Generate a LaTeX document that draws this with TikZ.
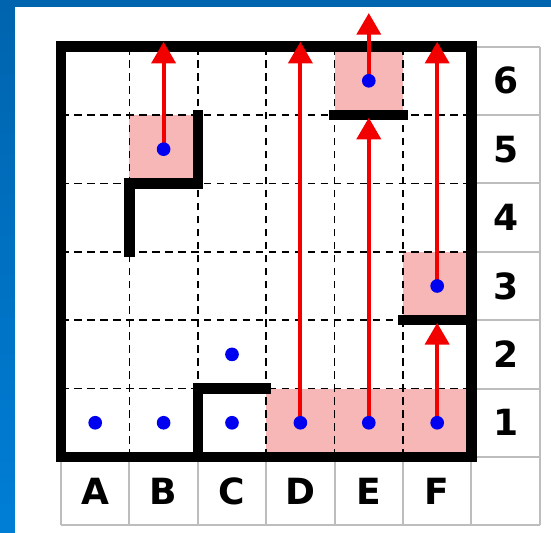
\documentclass[tikz,border=0pt]{standalone}
\usepackage{fontspec}
\setsansfont{DejaVu Sans}
\usetikzlibrary{arrows.meta,calc,positioning}
\definecolor{bgtop}{HTML}{0064AE}
\definecolor{bgbottom}{HTML}{007ED6}
\definecolor{cellpink}{HTML}{F8B7B7}
\definecolor{labgray}{HTML}{BDBDBD}
\definecolor{dotblue}{HTML}{0000F0}
\definecolor{arrred}{HTML}{F20000}

\begin{document}
\begin{tikzpicture}[scale=1.0,>={Triangle[length=9pt,width=10pt]},
    gridline/.style={line width=0.7pt,dash pattern=on 3.2pt off 2.2pt},
    wall/.style={line width=4.3pt,line cap=rect},
    move/.style={->,arrred,line width=1.6pt},
    lab/.style={font=\sffamily\bfseries\fontsize{15}{18}\selectfont}]
    \useasboundingbox (-0.892,-1.111) rectangle (7.164,6.681);
    \shade[top color=bgtop,bottom color=bgbottom] (-0.892,-1.111) rectangle (7.164,6.681);
    \fill[white] (-0.672,-1.111) rectangle (7.164,6.579);
    % label cells
    \draw[labgray,line width=0.8pt] (0,-1) grid (7,0);
    \draw[labgray,line width=0.8pt] (6,0) grid (7,6);
    % shaded cells
    \foreach \c in {(1,4),(4,5),(5,2),(3,0),(4,0),(5,0)}
        \fill[cellpink] \c rectangle ++(1,1);
    % dashed grid
    \foreach \i in {1,...,5} {
        \draw[gridline] (\i,0) -- (\i,6);
        \draw[gridline] (0,\i) -- (6,\i);
    }
    % walls
    \draw[wall] (0,0) rectangle (6,6);
    \draw[wall] (2,5) -- (2,4) -- (1,4) -- (1,3);
    \draw[wall] (4,5) -- (5,5);
    \draw[wall] (5,2) -- (6,2);
    \draw[wall] (2,0) -- (2,1) -- (3,1);
    % pieces
    \coordinate (A1) at (0.5,0.5);
    \coordinate (B1) at (1.5,0.5);
    \coordinate (C1) at (2.5,0.5);
    \coordinate (D1) at (3.5,0.5);
    \coordinate (E1) at (4.5,0.5);
    \coordinate (F1) at (5.5,0.5);
    \coordinate (C2) at (2.5,1.5);
    \coordinate (F3) at (5.5,2.5);
    \coordinate (B5) at (1.5,4.5);
    \coordinate (E6) at (4.5,5.5);
    % stops
    \coordinate (B-top) at (1.5,6.07);
    \coordinate (D-top) at (3.5,6.07);
    \coordinate (F-top) at (5.5,6.07);
    \coordinate (E-wall) at (4.5,4.96);
    \coordinate (F-wall) at (5.5,1.96);
    \coordinate (E-out) at (4.5,6.49);
    \draw[move] (B5) -- (B-top);
    \draw[move] (D1) -- (D-top);
    \draw[move] (E1) -- (E-wall);
    \draw[move] (F1) -- (F-wall);
    \draw[move] (F3) -- (F-top);
    \draw[move] (E6) -- (E-out);
    \foreach \p in {A1,B1,C1,D1,E1,F1,C2,F3,B5,E6}
        \fill[dotblue] (\p) circle (0.1);
    % labels
    \foreach \l [count=\i] in {A,B,C,D,E,F}
        \node[lab] (col-\l) at (\i-0.5,-0.5) {\l};
    \foreach \i in {1,...,6}
        \node[lab] (row-\i) at (6.5,\i-0.5) {\i};
\end{tikzpicture}
\end{document}
